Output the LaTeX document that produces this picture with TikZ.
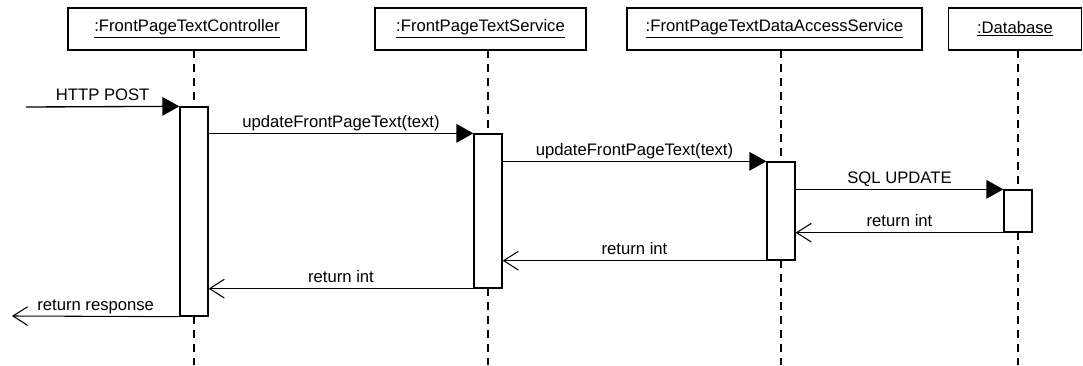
\documentclass[tikz,border=0pt]{standalone}
\usepackage{fontspec}
\setmainfont{Liberation Sans}
\usetikzlibrary{arrows.meta}
\usetikzlibrary{fit}

\tikzset{
	objbox/.style={draw, line width=1pt, minimum height=31.5pt, inner sep=0pt},
	actbar/.style={draw, fill=white, line width=1pt, inner sep=0pt},
	lifeline/.style={line width=1pt, dash pattern=on 6pt off 4.5pt},
	callmsg/.style={line width=1pt, -{Triangle[length=12.75pt, width=14pt]}},
	retmsg/.style={line width=0.8pt, -{Straight Barb[length=11pt, width=14pt]}},
	msglabel/.style={anchor=base, yshift=4.5pt, inner sep=0pt},
}

\begin{document}
\begin{tikzpicture}[x=0.75pt, y=-0.75pt, font=\fontsize{12.5pt}{15pt}\selectfont]
	\useasboundingbox (0,0) rectangle (1083,365);
	\coordinate (client) at (26,107);
	\coordinate (reply) at (12,316);
	\node[objbox, minimum width=178.5pt] (ctrl) at (187,29) {\underline{:FrontPageTextController}};
	\node[objbox, minimum width=158.25pt] (svc) at (480.5,29) {\underline{:FrontPageTextService}};
	\node[objbox, minimum width=221.25pt] (dao) at (774.5,29) {\underline{:FrontPageTextDataAccessService}};
	\node[objbox, minimum width=99.75pt] (db) at (1015,29) {\underline{:Database}};
	\draw[lifeline] (194,50) -- (194,365);
	\draw[lifeline] (488,50) -- (488,365);
	\draw[lifeline] (781,50) -- (781,365);
	\draw[lifeline] (1018,50) -- (1018,365);
	\node[actbar, fit={(180,107) (208,316)}] (ctrlact) {};
	\node[actbar, fit={(474,134) (502,288)}] (svcact) {};
	\node[actbar, fit={(767,162) (795,260)}] (daoact) {};
	\node[actbar, fit={(1004,190) (1032,232)}] (dbact) {};
	\draw[callmsg] (client) -- node[msglabel] {HTTP POST} (ctrlact.north west);
	\draw[callmsg] (ctrlact.east |- svcact.north) -- node[msglabel] {updateFrontPageText(text)} (svcact.north west);
	\draw[callmsg] (svcact.east |- daoact.north) -- node[msglabel] {updateFrontPageText(text)} (daoact.north west);
	\draw[callmsg] (daoact.east |- dbact.north) -- node[msglabel] {SQL UPDATE} (dbact.north west);
	\draw[retmsg] (dbact.south west) -- node[msglabel] {return int} (daoact.east |- dbact.south);
	\draw[retmsg] (daoact.south west) -- node[msglabel] {return int} (svcact.east |- daoact.south);
	\draw[retmsg] (svcact.south west) -- node[msglabel] {return int} (ctrlact.east |- svcact.south);
	\draw[retmsg] (ctrlact.south west) -- node[msglabel] {return response} (reply);
\end{tikzpicture}
\end{document}
